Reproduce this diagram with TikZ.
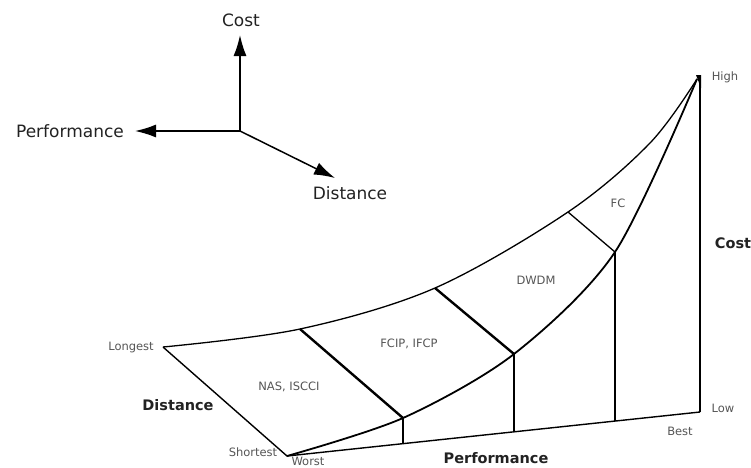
\documentclass[tikz,border=0pt]{standalone}
\usepackage{fontspec}
\setmainfont{DejaVu Sans}
\usetikzlibrary{arrows.meta}
\definecolor{lbl}{HTML}{555555}
\definecolor{ink}{HTML}{222222}
\tikzset{
  small/.style={font=\fontsize{11.5}{13}\selectfont, text=lbl, inner sep=0pt},
  axlbl/.style={font=\fontsize{17}{18}\selectfont, text=ink, inner sep=0pt},
  biglbl/.style={font=\fontsize{14.5}{16}\selectfont\bfseries, text=ink, inner sep=0pt},
  axarrow/.style={line width=1.5pt, black, -{Latex[length=21pt,width=13pt]}},
  upcurve/.style={line width=1.3pt, line join=round},
  lowcurve/.style={line width=1.8pt, line join=round},
  thickdiv/.style={line width=2.4pt},
  thindiv/.style={line width=1.3pt},
  vline/.style={line width=1.7pt},
  edge/.style={line width=1.4pt, line join=round}
}
\begin{document}
\begin{tikzpicture}[x=1pt,y=-1pt]
\useasboundingbox (0,0) rectangle (751,467);
% ---- axes icon
\coordinate (O) at (240,131);
\coordinate (cT) at (240,35);
\coordinate (pT) at (135,131);
\coordinate (dT) at (335,178);
\draw[axarrow] (O) -- (cT);
\draw[axarrow] (O) -- (pT);
\draw[axarrow] (O) -- (dT);
\node[axlbl] (cL) at (241,20) {Cost};
\node[axlbl] (pL) at (70,131) {Performance};
\node[axlbl] (dL) at (350,193) {Distance};
% ---- main diagram
\coordinate (L) at (163,347);
\coordinate (S) at (287,456);
\coordinate (H) at (697,79);
\coordinate (Hi) at (700,75);
\coordinate (Lo) at (700,412);
\coordinate (u1) at (300,329);
\coordinate (u2) at (435,288);
\coordinate (u3) at (568,212);
\coordinate (u4) at (650,143);
\coordinate (d1) at (403,418);
\coordinate (d2) at (514,354);
\coordinate (d3) at (615,252);
\coordinate (b1) at (403,443.6);
\coordinate (b2) at (514,431.8);
\coordinate (b3) at (615,421);
% curves
\draw[upcurve] plot[smooth, tension=0.55] coordinates {(L) (u1) (u2) (u3) (u4) (H)};
\draw[lowcurve] plot[smooth, tension=0.5] coordinates {(S) (d1) (d2) (d3) (H)};
% edges
\draw[edge] (L) -- (S) -- (Lo);
\draw[vline] (Lo) -- (Hi);
\fill (696,75) -- (701,75) -- (701,88) -- cycle;
% dividers
\draw[thickdiv] (u1) -- (d1);
\draw[thickdiv] (u2) -- (d2);
\draw[thindiv] (u3) -- (d3);
% verticals
\draw[vline] (d1) -- (b1);
\draw[vline] (d2) -- (b2);
\draw[vline] (d3) -- (b3);
% labels
\node[small] (nas) at (289,387) {NAS, ISCCI};
\node[small] (fcip) at (409,344) {FCIP, IFCP};
\node[small] (dwdm) at (536,280) {DWDM};
\node[small] (fc) at (618,203) {FC};
\node[small] (longest) at (131,347) {Longest};
\node[small] (shortest) at (253,452) {Shortest};
\node[small] (worst) at (308,461) {Worst};
\node[small] (best) at (680,431) {Best};
\node[small] (low) at (723,408) {Low};
\node[small] (high) at (725,77) {High};
\node[biglbl] (distB) at (178,405) {Distance};
\node[biglbl] (perfB) at (496,458) {Performance};
\node[biglbl] (costB) at (733,243) {Cost};
\end{tikzpicture}
\end{document}
